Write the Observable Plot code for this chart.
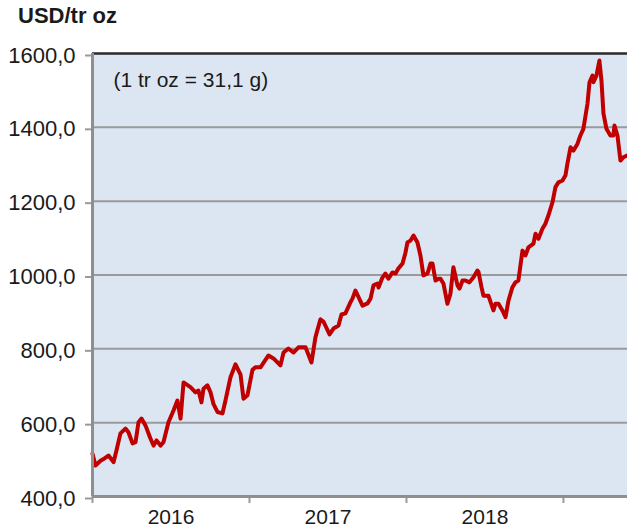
<!DOCTYPE html>
<html>
<head>
<meta charset="utf-8">
<script src="https://cdn.jsdelivr.net/npm/d3@7"></script>
<script src="https://cdn.jsdelivr.net/npm/@observablehq/plot@0.6"></script>
<style>
  html, body { margin: 0; padding: 0; background: #ffffff; }
  #wrap { position: relative; width: 627px; height: 530px; overflow: hidden; font-family: "Liberation Sans", Arial, sans-serif; }
  #title { position: absolute; left: 18px; top: 5px; font-size: 22px; line-height: 22px; font-weight: bold; color: #1a1a1a; }
  #chart { position: absolute; left: 0; top: 30px; }
</style>
</head>
<body>
<div id="wrap">
  <div id="title">USD/tr oz</div>
  <div id="chart"></div>
</div>
<script>
// time in decimal years
const years = [
  2016.000, 2016.019, 2016.051, 2016.076, 2016.102, 2016.134, 2016.153, 2016.178, 2016.210, 2016.229,
  2016.255, 2016.274, 2016.293, 2016.312, 2016.338, 2016.369, 2016.389, 2016.408, 2016.433, 2016.452,
  2016.484, 2016.516, 2016.541, 2016.561, 2016.580, 2016.624, 2016.656, 2016.675, 2016.694, 2016.707,
  2016.732, 2016.752, 2016.771, 2016.796, 2016.828, 2016.847, 2016.879, 2016.911, 2016.943, 2016.962,
  2016.987, 2017.019, 2017.038, 2017.070, 2017.121, 2017.153, 2017.197, 2017.217, 2017.248, 2017.280,
  2017.312, 2017.357, 2017.395, 2017.420, 2017.452, 2017.471, 2017.510, 2017.535, 2017.567, 2017.586,
  2017.611, 2017.643, 2017.656, 2017.675, 2017.720, 2017.752, 2017.771, 2017.790, 2017.815, 2017.822,
  2017.847, 2017.866, 2017.885, 2017.911, 2017.930, 2017.949, 2017.975, 2017.994, 2018.006, 2018.025,
  2018.045, 2018.070, 2018.089, 2018.108, 2018.134, 2018.153, 2018.166, 2018.185, 2018.204, 2018.217,
  2018.236, 2018.261, 2018.280, 2018.299, 2018.325, 2018.338, 2018.357, 2018.376, 2018.401, 2018.427,
  2018.452, 2018.459, 2018.478, 2018.490, 2018.522, 2018.554, 2018.567, 2018.586, 2018.611, 2018.631,
  2018.650, 2018.675, 2018.694, 2018.713, 2018.739, 2018.758, 2018.777, 2018.809, 2018.822, 2018.841,
  2018.866, 2018.885, 2018.904, 2018.930, 2018.949, 2018.968, 2018.994, 2019.013, 2019.025, 2019.045,
  2019.064, 2019.089, 2019.108, 2019.127, 2019.153, 2019.166, 2019.185, 2019.191, 2019.210, 2019.229,
  2019.242, 2019.255, 2019.274, 2019.299, 2019.318, 2019.325, 2019.344, 2019.363, 2019.382, 2019.408
];
// price, USD per troy ounce
const prices = [
  516, 484, 497, 503, 511, 493, 525, 571, 584, 574,
  544, 547, 601, 611, 592, 557, 538, 552, 538, 547,
  601, 633, 660, 611, 709, 696, 682, 687, 655, 692,
  701, 682, 650, 629, 625, 660, 723, 758, 730, 665,
  674, 743, 750, 750, 782, 774, 755, 790, 801, 790,
  804, 804, 763, 831, 880, 874, 839, 855, 863, 893,
  896, 926, 936, 958, 917, 923, 936, 972, 977, 966,
  993, 1004, 990, 1007, 1004, 1018, 1031, 1061, 1088, 1093,
  1107, 1088, 1053, 999, 1004, 1031, 1031, 985, 990, 990,
  976, 922, 949, 1021, 972, 963, 985, 985, 980, 994,
  1012, 1008, 967, 944, 944, 904, 922, 922, 904, 886,
  931, 967, 980, 985, 1066, 1053, 1075, 1085, 1112, 1098,
  1125, 1139, 1161, 1197, 1238, 1251, 1256, 1270, 1301, 1346,
  1337, 1355, 1378, 1396, 1464, 1522, 1540, 1522, 1540, 1581,
  1527, 1437, 1396, 1378, 1378, 1405, 1378, 1310, 1319, 1324
];
const yTicks = [400, 600, 800, 1000, 1200, 1400, 1600];
const yearBounds = [2016, 2017, 2018, 2019];
const yearLabels = ["2016", "2017", "2018"];
const note = "(1 tr oz = 31,1 g)";

const data = years.map((t, i) => ({t, v: prices[i]}));
const labelData = yearLabels.map(s => ({x: +s + 0.5, label: s}));
const fmt = d => d.toFixed(1).replace(".", ",");

const chart = Plot.plot({
  width: 627,
  height: 500,
  marginTop: 23,
  marginLeft: 92,
  marginRight: 0,
  marginBottom: 34,
  style: {fontFamily: "'Liberation Sans', Arial, sans-serif", fontSize: "21px", color: "#1a1a1a", background: "transparent", overflow: "visible"},
  x: {domain: [2016, 2019.408], axis: null},
  y: {domain: [400, 1600], axis: null},
  marks: [
    Plot.frame({fill: "#dce6f2", stroke: null}),
    Plot.ruleY(yTicks.filter(d => d > 400 && d < 1600), {stroke: "#9a9a9a", strokeWidth: 2}),
    Plot.ruleY([1600], {stroke: "#2a2a2a", strokeWidth: 2.5}),
    Plot.axisY({ticks: yTicks, tickFormat: fmt, label: null, tickSize: 7, tickPadding: 10, stroke: "#9a9a9a", strokeWidth: 2, dy: 2, fill: "#1a1a1a", fontSize: 22}),
    Plot.axisX({ticks: yearBounds, tickFormat: () => "", label: null, tickSize: 7, stroke: "#9a9a9a", strokeWidth: 2}),
    Plot.text(labelData, {x: "x", y: () => 400, text: "label", dy: 13, lineAnchor: "top", fontSize: 21, fill: "#1a1a1a"}),
    Plot.line(data, {x: "t", y: "v", stroke: "#c00000", strokeWidth: 4, strokeLinejoin: "round", strokeLinecap: "round"}),
    Plot.ruleX([2016], {stroke: "#8f8f8f", strokeWidth: 3}),
    Plot.ruleY([400], {stroke: "#8f8f8f", strokeWidth: 3}),
    Plot.text([note], {frameAnchor: "top-left", dx: 21, dy: 27, lineAnchor: "middle", textAnchor: "start", fontSize: 21, fill: "#1a1a1a"})
  ]
});
document.getElementById("chart").appendChild(chart);
</script>
</body>
</html>
